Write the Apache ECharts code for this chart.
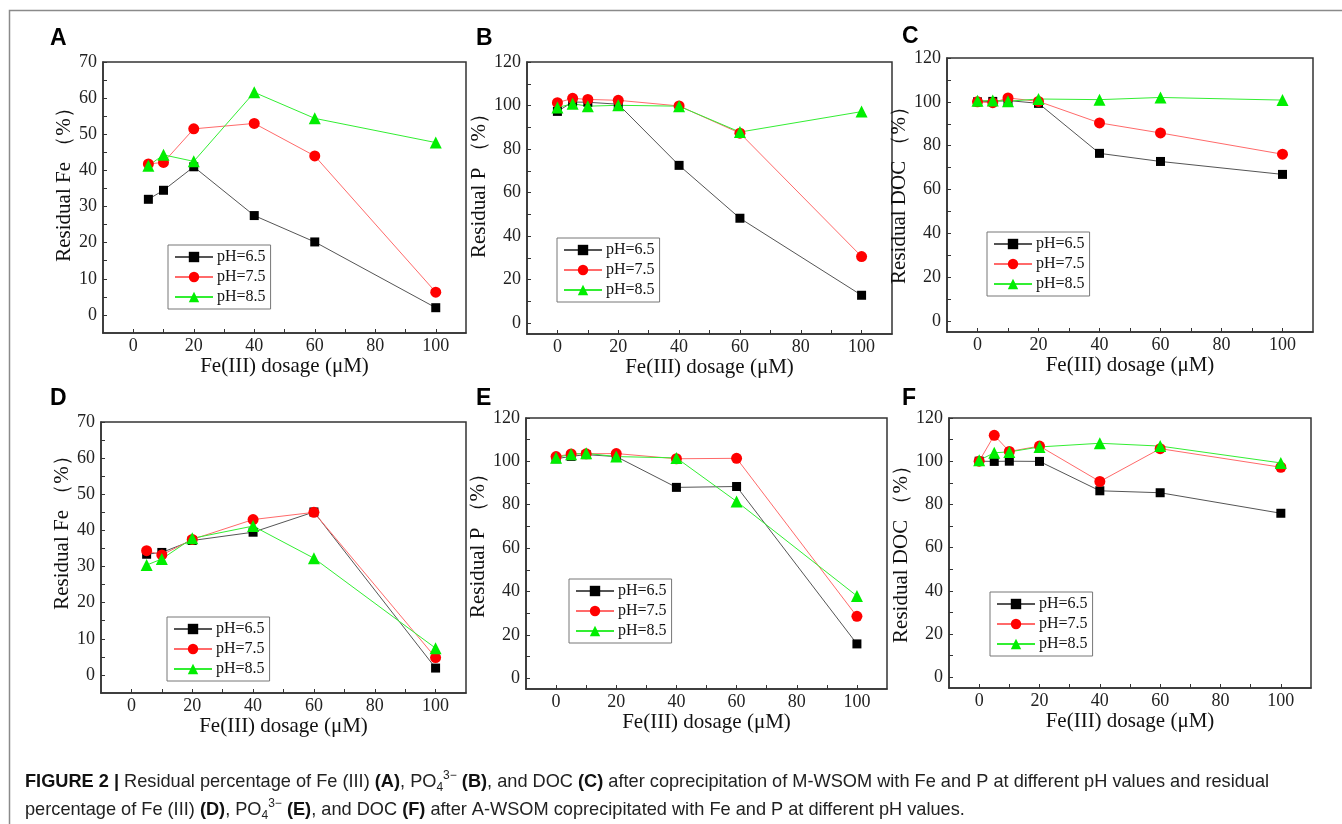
<!DOCTYPE html>
<html>
<head>
<meta charset="utf-8">
<script src="https://cdn.jsdelivr.net/npm/echarts@6/dist/echarts.min.js"></script>
<style>
  html, body { margin: 0; padding: 0; background: #fff; }
  #chart { width: 1342px; height: 824px; }
</style>
</head>
<body>
<div id="chart"></div>
<script>
// Fe(III) dosage levels (μM)
const doseNoZero = [5, 10, 20, 40, 60, 100];
const doseWithZero = [0, 5, 10, 20, 40, 60, 100];

const seriesNames = ['pH=6.5', 'pH=7.5', 'pH=8.5'];

// (A) residual Fe, M-WSOM
const feM65 = [32, 34.5, 41, 27.5, 20.2, 2];
const feM75 = [41.8, 42.2, 51.5, 53, 44, 6.3];
const feM85 = [41.3, 44.3, 42.5, 61.6, 54.4, 47.7];

// (B) residual P, M-WSOM
const pM65 = [97.3, 101.6, 101.5, 100.6, 72.5, 48.2, 12.8];
const pM75 = [101.3, 103.3, 102.8, 102.4, 99.8, 87.3, 30.6];
const pM85 = [99.1, 100.8, 99.7, 100.1, 99.7, 87.8, 97.2];

// (C) residual DOC, M-WSOM
const docM65 = [100, 100.2, 100.6, 99.3, 76.5, 72.8, 66.9];
const docM75 = [100, 99.6, 101.8, 100.2, 90.4, 85.8, 76.1];
const docM85 = [100.5, 100.6, 100.3, 101.3, 101.0, 102.0, 100.8];

// (D) residual Fe, A-WSOM
const feA65 = [33.4, 33.9, 37.2, 39.5, 45.1, 1.9];
const feA75 = [34.4, 33.2, 37.5, 43.0, 45.0, 4.8];
const feA85 = [30.4, 32.1, 37.8, 41.2, 32.3, 7.4];

// (E) residual P, A-WSOM
const pA65 = [101.2, 102.3, 103.1, 102.2, 88.0, 88.4, 15.8];
const pA75 = [102.2, 103.4, 103.5, 103.6, 101.2, 101.4, 28.5];
const pA85 = [101.7, 103.3, 103.7, 102.2, 101.6, 81.5, 37.9];

// (F) residual DOC, A-WSOM
const docA65 = [100, 99.9, 100, 99.9, 86.3, 85.4, 75.9];
const docA75 = [100, 112.0, 104.5, 107.0, 90.6, 105.8, 97.2];
const docA85 = [100.4, 103.9, 104.3, 106.6, 108.3, 107.0, 99.2];

// Axis tick labels
const xLabels = [0, 20, 40, 60, 80, 100];
const xTicks = [0, 10, 20, 30, 40, 50, 60, 70, 80, 90, 100];
const feLabels = [0, 10, 20, 30, 40, 50, 60, 70];
const feTicks = [0, 5, 10, 15, 20, 25, 30, 35, 40, 45, 50, 55, 60, 65, 70];
const pctLabels = [0, 20, 40, 60, 80, 100, 120];
const pctTicks = [0, 10, 20, 30, 40, 50, 60, 70, 80, 90, 100, 110, 120];

const panelLetters = ['A', 'B', 'C', 'D', 'E', 'F'];
const yTitles = ['Residual Fe （%）', 'Residual P （%）', 'Residual DOC （%）',
                 'Residual Fe （%）', 'Residual P （%）', 'Residual DOC （%）'];
const xTitle = 'Fe(III) dosage (μM)';

// panel content: x values, three series, y-axis kind
const panels = [
  { x: doseNoZero, ys: [feM65, feM75, feM85], kind: 'fe' },
  { x: doseWithZero, ys: [pM65, pM75, pM85], kind: 'pct' },
  { x: doseWithZero, ys: [docM65, docM75, docM85], kind: 'pct' },
  { x: doseNoZero, ys: [feA65, feA75, feA85], kind: 'fe' },
  { x: doseWithZero, ys: [pA65, pA75, pA85], kind: 'pct' },
  { x: doseWithZero, ys: [docA65, docA75, docA85], kind: 'pct' }
];

// layout (pixels)
const gridBoxes = [
  { left: 103, top: 62, width: 363, height: 271 },
  { left: 527, top: 62, width: 365, height: 272 },
  { left: 947, top: 58, width: 366, height: 274 },
  { left: 101, top: 422, width: 365, height: 271 },
  { left: 526, top: 418, width: 361, height: 271 },
  { left: 949, top: 418, width: 362, height: 270 }
];
const legendPos = [
  { left: 168, top: 245 }, { left: 557, top: 238 }, { left: 987, top: 232 },
  { left: 167, top: 617 }, { left: 569, top: 579 }, { left: 990, top: 592 }
];
const letterPos = [
  { left: 50, top: 27 }, { left: 476, top: 27 }, { left: 902, top: 25 },
  { left: 50, top: 387 }, { left: 476, top: 387 }, { left: 902, top: 387 }
];
const yNameGaps = [20, 21, 18, 24, 28, 28];
// shifts the rotated y title toward the top of its axis
const yNameLift = [36, 35, 10, 60, 26, 8];
const xNameGaps = [21, 22, 22, 21, 20, 21];

const serif = 'Liberation Serif, Times New Roman, serif';
const sans = 'Liberation Sans, Arial, Helvetica, sans-serif';
const axisColor = '#333';

const symbolStyles = [
  { symbol: 'rect', size: 9, color: '#000000', line: '#555555' },
  { symbol: 'circle', size: 11, color: '#ff0000', line: '#ff6a6a' },
  { symbol: 'triangle', size: 12, color: '#00ee00', line: '#33ee33' }
];

const grid = [], xAxis = [], yAxis = [], series = [], legend = [], graphic = [];

panels.forEach((p, i) => {
  grid.push(Object.assign({
    show: true, borderColor: axisColor, borderWidth: 1.5, backgroundColor: 'transparent'
  }, gridBoxes[i]));

  xAxis.push({
    type: 'value', gridIndex: i, min: -10, max: 110,
    name: xTitle, nameLocation: 'middle', nameGap: xNameGaps[i],
    nameTextStyle: { fontFamily: serif, fontSize: 21, color: '#111' },
    axisLine: { show: true, onZero: false, lineStyle: { color: axisColor, width: 1.5 } },
    axisTick: { show: true, inside: true, length: 4, customValues: xTicks,
                lineStyle: { color: axisColor, width: 1 } },
    axisLabel: { customValues: xLabels, margin: 4, fontFamily: serif, fontSize: 18, color: '#222' },
    splitLine: { show: false }
  });

  const isFe = p.kind === 'fe';
  yAxis.push({
    type: 'value', gridIndex: i, min: -5, max: isFe ? 70 : 120,
    name: yTitles[i], nameLocation: 'middle', nameGap: yNameGaps[i], nameRotate: 90,
    nameTextStyle: { fontFamily: serif, fontSize: 21, color: '#111',
                     padding: [0, 0, 0, yNameLift[i]] },
    axisLine: { show: true, onZero: false, lineStyle: { color: axisColor, width: 1.5 } },
    axisTick: { show: true, inside: true, length: 4, customValues: isFe ? feTicks : pctTicks,
                lineStyle: { color: axisColor, width: 1 } },
    axisLabel: { customValues: isFe ? feLabels : pctLabels, margin: 6,
                 fontFamily: serif, fontSize: 18, color: '#222' },
    splitLine: { show: false }
  });

  p.ys.forEach((vals, k) => {
    const st = symbolStyles[k];
    series.push({
      type: 'line', name: seriesNames[k], xAxisIndex: i, yAxisIndex: i,
      data: p.x.map((xv, j) => [xv, vals[j]]),
      symbol: st.symbol, symbolSize: st.size, showSymbol: true,
      itemStyle: { color: st.color },
      lineStyle: { color: st.line, width: 1 },
      emphasis: { disabled: true },
      animation: false
    });
  });

  legend.push(Object.assign({
    orient: 'vertical', data: seriesNames,
    itemWidth: 38, itemHeight: 13, itemGap: 4,
    backgroundColor: '#fff', borderColor: '#777', borderWidth: 1, borderRadius: 0,
    padding: [4, 5, 4, 6],
    textStyle: { fontFamily: serif, fontSize: 16, color: '#111', padding: [0, 0, 0, -1] }
  }, legendPos[i]));

  graphic.push({
    type: 'text', left: letterPos[i].left, top: letterPos[i].top,
    style: { text: panelLetters[i], font: 'bold 23px ' + sans, fill: '#000' }
  });
});

// figure frame (top and left edges)
graphic.push({
  type: 'polyline',
  shape: { points: [[9.5, 824], [9.5, 10.5], [1342, 10.5]] },
  style: { stroke: '#8a8a8a', lineWidth: 1.5, fill: null }
});

// caption
const capSize = 18.2;
const captionRich = {
  b: { fontFamily: sans, fontWeight: 'bold', fontSize: capSize, fill: '#111' },
  sub: { fontFamily: sans, fontSize: 12, verticalAlign: 'bottom', lineHeight: 24 },
  sup: { fontFamily: sans, fontSize: 12, verticalAlign: 'top', lineHeight: 24 }
};
graphic.push({
  type: 'text', left: 25, top: 770,
  style: {
    text: '{b|FIGURE 2 |} Residual percentage of Fe (III) {b|(A)}, PO{sub|4}{sup|3−} {b|(B)}, and DOC {b|(C)} after coprecipitation of M-WSOM with Fe and P at different pH values and residual',
    rich: captionRich, fontFamily: sans, fontSize: capSize, fill: '#222', lineHeight: 24
  }
});
graphic.push({
  type: 'text', left: 25, top: 798,
  style: {
    text: 'percentage of Fe (III) {b|(D)}, PO{sub|4}{sup|3−} {b|(E)}, and DOC {b|(F)} after A-WSOM coprecipitated with Fe and P at different pH values.',
    rich: captionRich, fontFamily: sans, fontSize: capSize, fill: '#222', lineHeight: 24
  }
});

const chart = echarts.init(document.getElementById('chart'), null, { renderer: 'canvas' });
chart.setOption({
  backgroundColor: '#fff',
  animation: false,
  grid, xAxis, yAxis, series, legend, graphic
});
</script>
</body>
</html>
